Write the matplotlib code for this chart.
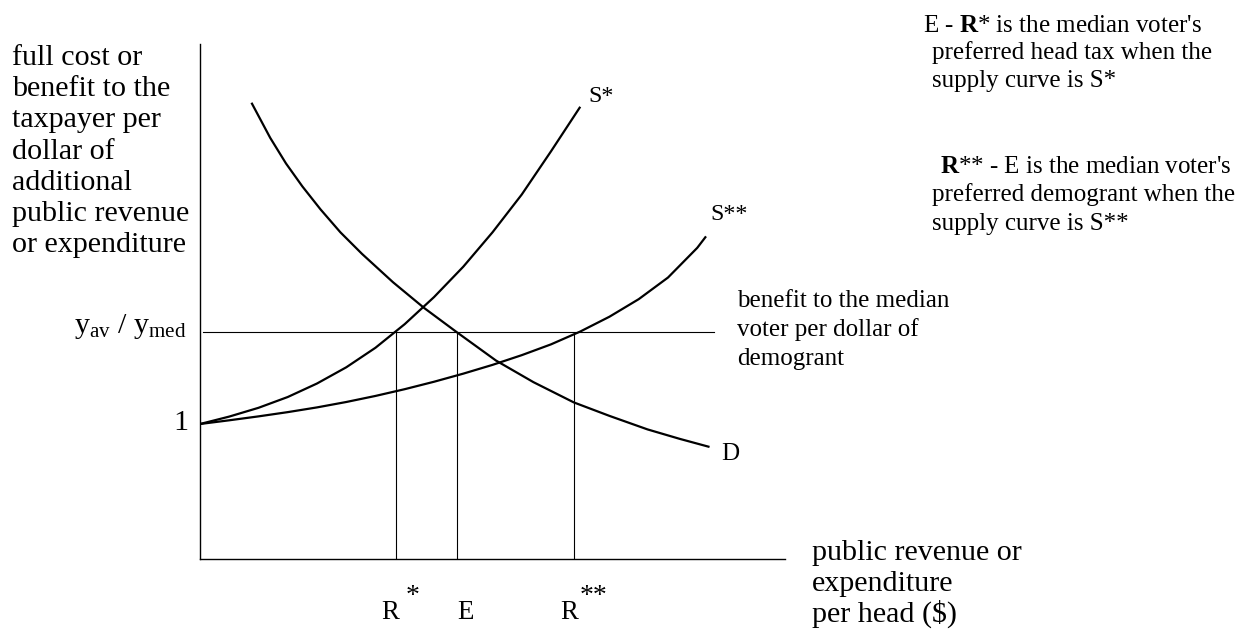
import numpy as np
from matplotlib import pyplot as plt

# figure size in pixels
W, H = 1247, 633

plt.rcParams['font.family'] = ['Liberation Serif', 'DejaVu Serif']
plt.rcParams['mathtext.fontset'] = 'custom'
plt.rcParams['mathtext.rm'] = 'Liberation Serif'
plt.rcParams['mathtext.bf'] = 'Liberation Serif:bold'
plt.rcParams['mathtext.it'] = 'Liberation Serif:italic'

# curves (x = revenue per head, y = cost/benefit per $)
s1_x = [0.0, 0.5, 1.0, 1.5, 2.0, 2.5, 3.0, 3.5, 4.0, 4.5, 5.0, 5.5, 6.0, 6.5]
s1_y = [1.0, 1.055, 1.12, 1.20, 1.30, 1.42, 1.565, 1.74, 1.94, 2.165,
        2.42, 2.70, 3.02, 3.35]

s2_x = [0.0, 0.5, 1.0, 1.5, 2.0, 2.5, 3.0, 3.5, 4.0, 4.5, 5.0, 5.5, 6.0,
        6.5, 7.0, 7.5, 8.0, 8.5, 8.65]
s2_y = [1.0, 1.0275, 1.0565, 1.088, 1.123, 1.163, 1.208, 1.258, 1.313,
        1.373, 1.438, 1.51, 1.59, 1.685, 1.795, 1.925, 2.085, 2.305, 2.39]

d_x = [0.88, 1.2, 1.47, 1.75, 2.06, 2.4, 2.77, 3.3, 3.83, 4.39, 5.06, 5.7,
       6.39, 7.0, 7.65, 8.2, 8.71]
d_y = [3.38, 3.12, 2.93, 2.76, 2.59, 2.42, 2.26, 2.05, 1.86, 1.68, 1.47,
       1.31, 1.16, 1.06, 0.96, 0.89, 0.83]

ratio = 1.68          # y_av / y_med
ratio_span = [0.05, 8.79]
r_star, e_point, r_2star = 3.35, 4.39, 6.39

fig = plt.figure(figsize=(W / 100, H / 100), dpi=100)
ax = fig.add_axes([200 / W, (H - 559) / H, 585 / W, 515 / H])
ax.set_xlim(0, 10)
ax.set_ylim(0, 3.815)
for side in ['top', 'right']:
    ax.spines[side].set_visible(False)
for side in ['left', 'bottom']:
    ax.spines[side].set_linewidth(1.0)
ax.set_xticks([])
ax.set_yticks([])

for xs, ys in [(s1_x, s1_y), (s2_x, s2_y), (d_x, d_y)]:
    ax.plot(xs, ys, color='black', lw=1.6, solid_capstyle='butt',
            solid_joinstyle='round')
ax.plot(ratio_span, [ratio, ratio], color='black', lw=0.8)
ax.vlines([r_star, e_point, r_2star], 0, ratio, color='black', lw=0.8)


def fx(x):
    return x / W


def fy(y):
    return 1 - y / H


# y axis label
ylabel = ['full cost or', 'benefit to the', 'taxpayer per', 'dollar of',
          'additional', 'public revenue', 'or expenditure']
for i, line in enumerate(ylabel):
    fig.text(fx(12), fy(65 + 31.2 * i), line, fontsize=21.6, va='baseline')

fig.text(fx(186), fy(333), r'$\mathrm{y_{av}}$ / $\mathrm{y_{med}}$',
         fontsize=21.6, ha='right', va='baseline')
fig.text(fx(188), fy(423), '1', fontsize=21.6, ha='right', va='center')

# curve labels
fig.text(fx(588), fy(97), 'S*', fontsize=17.3, va='center')
fig.text(fx(710), fy(215), 'S**', fontsize=17.3, va='center')
fig.text(fx(721), fy(454), 'D', fontsize=18, va='center')

# horizontal line label
benefit = ['benefit to the median', 'voter per dollar of', 'demogrant']
for i, line in enumerate(benefit):
    fig.text(fx(737), fy(307 + 29 * i), line, fontsize=18, va='baseline')

# notes top right
note1 = [(923, "E - $\\mathbf{R}$* is the median voter's"),
         (932, 'preferred head tax when the'),
         (932, 'supply curve is S*')]
for i, (x, line) in enumerate(note1):
    fig.text(fx(x), fy(32 + 27.5 * i), line, fontsize=18, va='baseline')

note2 = [(940, "$\\mathbf{R}$** - E is the median voter's"),
         (932, 'preferred demogrant when the'),
         (932, 'supply curve is S**')]
for i, (x, line) in enumerate(note2):
    fig.text(fx(x), fy(173 + 28.5 * i), line, fontsize=18, va='baseline')

# x axis label
xlabel = ['public revenue or', 'expenditure', 'per head ($)']
for i, line in enumerate(xlabel):
    fig.text(fx(812), fy(560 + 31 * i), line, fontsize=21.6, va='baseline')

# points on the x axis
fig.text(fx(381), fy(619), 'R', fontsize=19.4, va='baseline')
fig.text(fx(406), fy(603), '*', fontsize=20, va='baseline')
fig.text(fx(457), fy(619), 'E', fontsize=19.4, va='baseline')
fig.text(fx(560), fy(619), 'R', fontsize=19.4, va='baseline')
fig.text(fx(580), fy(603), '**', fontsize=20, va='baseline')

fig.savefig('out.png', dpi=100, facecolor='white')
